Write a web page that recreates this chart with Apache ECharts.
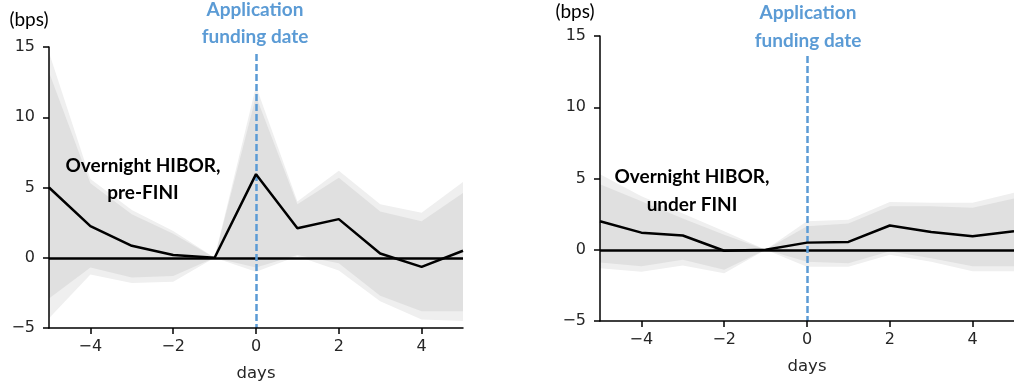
<!DOCTYPE html>
<html>
<head>
<meta charset="utf-8">
<script src="https://cdn.jsdelivr.net/npm/echarts@6/dist/echarts.min.js"></script>
<style>
  html, body { margin: 0; padding: 0; background: #fff; }
  #chart { width: 1014px; height: 389px; }
</style>
</head>
<body>
<div id="chart"></div>
<script>
// ---- data ----
const days = [-5, -4, -3, -2, -1, 0, 1, 2, 3, 4, 5];
const xTicks = [-4, -2, 0, 2, 4];

// Left panel: pre-FINI
const preMean   = [5.0, 2.25, 0.85, 0.2, 0.0, 5.95, 2.1, 2.75, 0.3, -0.65, 0.5];
const preUpper  = [13.2, 5.3, 3.1, 1.7, 0.0, 11.5, 3.8, 5.7, 3.3, 2.6, 4.6];
const preLower  = [-2.9, -0.7, -1.4, -1.3, 0.0, -0.7, 0.2, -0.4, -2.7, -3.8, -3.8];
const preUpper2 = [14.6, 5.6, 3.4, 1.9, 0.0, 12.2, 4.0, 6.2, 3.8, 3.2, 5.4];
const preLower2 = [-4.3, -1.2, -1.8, -1.7, 0.0, -1.0, 0.1, -0.9, -3.1, -4.4, -4.5];

// Right panel: under FINI
const finiMean   = [2.0, 1.2, 1.0, -0.07, 0.0, 0.5, 0.55, 1.7, 1.25, 0.95, 1.3];
const finiUpper  = [4.6, 3.4, 2.2, 1.05, 0.0, 1.65, 1.85, 3.05, 3.05, 2.95, 3.6];
const finiLower  = [-0.9, -1.15, -0.7, -1.4, 0.0, -0.85, -0.95, -0.1, -0.6, -1.15, -1.15];
const finiUpper2 = [5.3, 3.75, 2.55, 1.3, 0.0, 2.0, 2.1, 3.35, 3.3, 3.3, 4.0];
const finiLower2 = [-1.3, -1.55, -1.1, -1.65, 0.0, -1.2, -1.2, -0.35, -0.85, -1.5, -1.5];

const yMin = -5, yMax = 15, yStep = 5;

// ---- helpers ----
const TXT = '#262626';
const BLUE = '#5b9bd5';
const minus = v => String(v).replace('-', '\u2212');

function bandSeries(idx, upper, lower, color, z) {
  return {
    type: 'custom',
    xAxisIndex: idx, yAxisIndex: idx,
    z: z,
    silent: true,
    data: days.map((d, i) => [d, upper[i]]),
    encode: { x: 0, y: 1 },
    renderItem: function (params, api) {
      if (params.dataIndex !== 0) return;
      const pts = [];
      for (let i = 0; i < days.length; i++) pts.push(api.coord([days[i], upper[i]]));
      for (let i = days.length - 1; i >= 0; i--) pts.push(api.coord([days[i], lower[i]]));
      return { type: 'polygon', shape: { points: pts }, style: { fill: color } };
    }
  };
}

function meanSeries(idx, mean, dashTop) {
  return {
    type: 'line',
    xAxisIndex: idx, yAxisIndex: idx,
    z: 5,
    data: days.map((d, i) => [d, mean[i]]),
    symbol: 'none',
    lineStyle: { color: '#000', width: 2.5 },
    silent: true,
    markLine: {
      silent: true,
      symbol: ['none', 'none'],
      label: { show: false },
      animation: false,
      data: [
        { yAxis: 0, lineStyle: { color: '#000', width: 2.5, type: 'solid' } },
        [
          { coord: [0, dashTop], lineStyle: { color: BLUE, width: 2.5, type: [7, 3] } },
          { coord: [0, yMin] }
        ]
      ]
    }
  };
}

function xAxisCfg(idx) {
  return {
    type: 'value', gridIndex: idx, z: 10,
    min: -5, max: 5,
    name: 'days', nameLocation: 'middle', nameGap: 37,
    nameTextStyle: { fontFamily: 'DejaVu Sans', fontSize: 16.5, color: TXT },
    axisLine: { show: true, onZero: false, lineStyle: { color: '#000', width: 1.5 } },
    axisTick: { show: true, length: 6, customValues: xTicks, lineStyle: { color: '#000', width: 1.5 } },
    axisLabel: { customValues: xTicks, formatter: minus, fontFamily: 'DejaVu Sans', fontSize: 16, color: TXT, margin: 11 },
    splitLine: { show: false }
  };
}
function yAxisCfg(idx) {
  return {
    type: 'value', gridIndex: idx, z: 10,
    min: yMin, max: yMax, interval: yStep,
    axisLine: { show: true, onZero: false, lineStyle: { color: '#000', width: 1.5 } },
    axisTick: { show: true, length: 6, lineStyle: { color: '#000', width: 1.5 } },
    axisLabel: { formatter: minus, fontFamily: 'DejaVu Sans', fontSize: 16, color: TXT, margin: 14 },
    splitLine: { show: false }
  };
}

const annoFont = 'Lato';
function label(x, y, text, color, bold) {
  return {
    type: 'text', x: x, y: y, z: 10,
    style: { text: text, fontFamily: annoFont, fontWeight: bold ? 'bold' : 'normal', fontSize: 19, fill: color, align: 'center', verticalAlign: 'middle' }
  };
}

const chart = echarts.init(document.getElementById('chart'), null, { renderer: 'canvas' });
chart.setOption({
  animation: false,
  backgroundColor: '#fff',
  grid: [
    { left: 49, right: 551, top: 47, bottom: 61 },
    { left: 600, right: -8, top: 36, bottom: 68 }
  ],
  xAxis: [xAxisCfg(0), xAxisCfg(1)],
  yAxis: [yAxisCfg(0), yAxisCfg(1)],
  series: [
    bandSeries(0, preUpper2, preLower2, '#efefef', 1),
    bandSeries(0, preUpper, preLower, '#e0e0e0', 2),
    meanSeries(0, preMean, 14.5),
    bandSeries(1, finiUpper2, finiLower2, '#efefef', 1),
    bandSeries(1, finiUpper, finiLower, '#e0e0e0', 2),
    meanSeries(1, finiMean, 13.6)
  ],
  graphic: [
    label(29, 20, '(bps)', '#000', false),
    label(575, 12, '(bps)', '#000', false),
    label(255, 10, 'Application', BLUE, true),
    label(255, 37, 'funding date', BLUE, true),
    label(808, 13, 'Application', BLUE, true),
    label(808, 41, 'funding date', BLUE, true),
    label(143, 166, 'Overnight HIBOR,', '#000', true),
    label(143, 193, 'pre-FINI', '#000', true),
    label(692, 177, 'Overnight HIBOR,', '#000', true),
    label(692, 205, 'under FINI', '#000', true)
  ]
});
</script>
</body>
</html>
